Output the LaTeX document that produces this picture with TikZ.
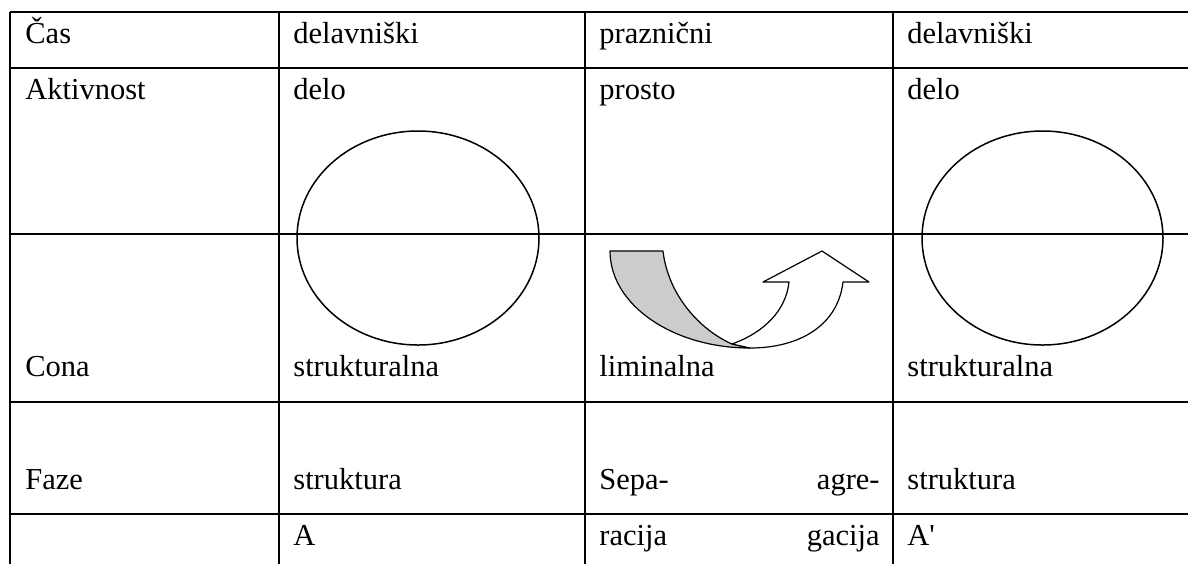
\documentclass[tikz,border=0pt]{standalone}
\usepackage{fontspec}
\setmainfont{Liberation Serif}
\begin{document}
\begin{tikzpicture}[x=0.5pt,y=-0.5pt,
    gridline/.style={line width=1pt},
    oval/.style={line width=0.75pt},
    cell/.style={anchor=base west,inner sep=0pt,font=\fontsize{15.25}{18}\selectfont},
    cellr/.style={cell,anchor=base east},
    back/.style={fill=black!20,line width=0.6pt,line join=round},
    front/.style={fill=white,line width=0.6pt,line join=round}]
       \useasboundingbox (0,0) rectangle (1188,564);
       \begin{scope}
         \foreach \y in {12,68,234,402,514}
           \draw[gridline] (9.5,\y) -- (1188,\y);
         \foreach \x in {10,279,585,893}
           \draw[gridline] (\x,11.5) -- (\x,564);
       \end{scope}
       \begin{scope}
         \draw[oval] (418,238) ellipse (121 and 107);
         \draw[oval] (1042.5,238) ellipse (120.5 and 107);
         \draw[line width=1.2pt] (922,234) -- (1163,234);
       \end{scope}
       \begin{scope}
         \draw[back] (610,251) -- (663,251) .. controls (668,295) and (700,330) .. (732,344)
           -- (750,348) .. controls (673,348) and (610,305) .. (610,251) -- cycle;
         \draw[front] (732,344) .. controls (765,332) and (786,310) .. (789,282)
           -- (763,282) -- (822,251) -- (869,282) -- (843,282)
           .. controls (838,325) and (800,348) .. (750,348) -- cycle;
       \end{scope}
       \node[cell] (cas) at (25,43) {Čas};
       \node[cell] (cas1) at (293,43) {delavniški};
       \node[cell] (cas2) at (599,43) {praznični};
       \node[cell] (cas3) at (907,43) {delavniški};
       \node[cell] (akt) at (25,99) {Aktivnost};
       \node[cell] (akt1) at (293,99) {delo};
       \node[cell] (akt2) at (599,99) {prosto};
       \node[cell] (akt3) at (907,99) {delo};
       \node[cell] (cona) at (25,376) {Cona};
       \node[cell] (cona1) at (293,376) {strukturalna};
       \node[cell] (cona2) at (599,376) {liminalna};
       \node[cell] (cona3) at (907,376) {strukturalna};
       \node[cell] (faze) at (25,489) {Faze};
       \node[cell] (faze1) at (293,489) {struktura};
       \node[cell] (faze2l) at (599,489) {Sepa-};
       \node[cellr] (faze2r) at (880,489) {agre-};
       \node[cell] (faze3) at (907,489) {struktura};
       \node[cell] (oznaka1) at (293,545) {A};
       \node[cell] (oznaka2l) at (599,545) {racija};
       \node[cellr] (oznaka2r) at (880,545) {gacija};
       \node[cell] (oznaka3) at (907,545) {A\textquotesingle};
     \end{tikzpicture}
\end{document}
